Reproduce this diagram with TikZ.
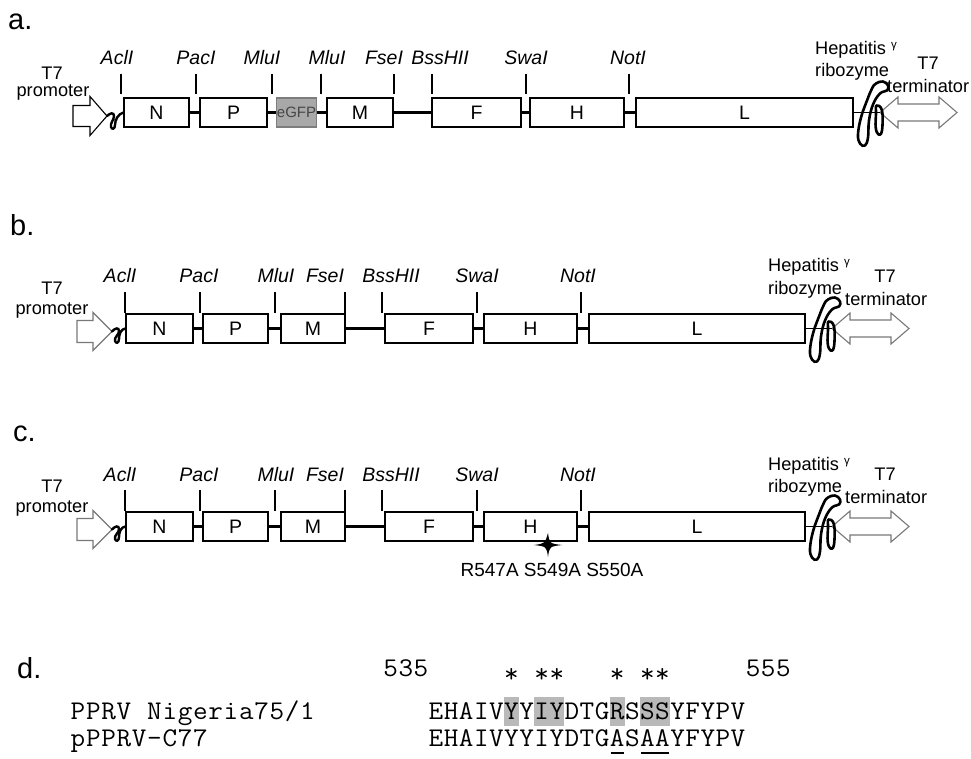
\documentclass[tikz,border=0pt]{standalone}
\usepackage{fontspec}
\setmainfont{Liberation Sans}
\usepackage{graphicx}
\usetikzlibrary{calc}
\definecolor{gfpfill}{RGB}{168,168,168}
\definecolor{gfpdraw}{RGB}{125,125,125}
\definecolor{gfptext}{RGB}{70,70,70}
\definecolor{hlgrey}{RGB}{185,185,185}
\definecolor{arrgrey}{RGB}{120,120,120}
\newcommand{\GeneF}{\fontsize{19.5}{21}\selectfont}
\newcommand{\EnzF}{\fontsize{19.5}{21}\selectfont\itshape}
\newcommand{\LblF}{\fontsize{18.2}{20}\selectfont}
\newcommand{\PanF}{\fontsize{29}{30}\selectfont}
\newcommand{\GfpF}{\fontsize{15}{16}\selectfont}
\newcommand{\SeqF}{\fontsize{27}{28}\selectfont\ttfamily\addfontfeature{FakeBold=0.6}}
\newcommand{\MutF}{\fontsize{19}{20}\selectfont}
\newcommand{\Sx}[1]{\scalebox{1.05}[1]{#1}}
\newcommand{\Gam}{\raisebox{6pt}{\fontsize{11.5}{11.5}\selectfont γ}}
\newcommand{\MonoRow}[5]{\foreach \c [count=\i from 0] in {#5} {\node[seqch] (#1-\i) at ({#2+#3*\i},#4) {\Sx{\c}};}}
\newcommand{\RiboShape}{%
  \draw[ribo] plot[smooth cycle, tension=0.7] coordinates {(23,-29) (30,-31) (35,-27) (34,-22) (27,-19) (20,-8) (16,8) (15,25) (12,33) (7,31) (5,22) (8,5) (14,-12) (19,-24)};
  \draw[ribo] plot[smooth cycle, tension=0.7] coordinates {(23.5,-7) (29,-2) (29,18) (25.5,22) (22.7,15) (23,1.3)};}
\newcommand{\TermShape}{%
  \draw[termarrow] (0,0) -- (18,-15.5) -- (18,-8.5) -- (59,-8.5) -- (59,-15.5) -- (77,0) -- (59,15.5) -- (59,8.5) -- (18,8.5) -- (18,15.5) -- cycle;}
\newcommand{\RowBC}{%
  \node[lbl] (Tp) at (52,294) {T7};
  \node[lbl] (Pp) at (52,314) {promoter};
  \draw[promarrow, draw=arrgrey] (77,320.5) -- (93,320.5) -- (93,312.5) -- (112,331.5) -- (93,350.5) -- (93,342.5) -- (77,342.5) -- cycle;
  \coordinate (tip) at (112,331.5);
  \node[gbox,minimum width=67pt] (N) at (159.5,328.5) {N};
  \node[gbox,minimum width=65pt] (P) at (235.5,328.5) {P};
  \node[gbox,minimum width=64pt] (M) at (313,328.5) {M};
  \node[gbox,minimum width=88pt] (F) at (429,328.5) {F};
  \node[gbox,minimum width=93pt] (H) at (530.5,328.5) {H};
  \node[gbox,minimum width=216pt] (L) at (697,328.5) {L};
  \draw[linker] (N.east) -- (P.west);
  \draw[linker] (P.east) -- (M.west);
  \draw[linker] (M.east) -- (F.west);
  \draw[linker] (F.east) -- (H.west);
  \draw[linker] (H.east) -- (L.west);
  \draw[curl] (tip) .. controls (115,328) and (119,327) .. (119,331) .. controls (119,335) and (114,337) .. (115,341) .. controls (116,344) and (119,343) .. (119,339) .. controls (119,334) and (121,329) .. (N.west);
  \foreach \x in {125,200,275,345,382,477,581} {\draw[tickln] (\x,292) -- (\x,313);}
  \node[enz] (eA) at (120,283) {AclI};
  \node[enz] (eP) at (199,283) {PacI};
  \node[enz] (eM) at (276,283) {MluI};
  \node[enz] (eF) at (325,283) {FseI};
  \node[enz] (eB) at (391,283) {BssHII};
  \node[enz] (eS) at (477,283) {SwaI};
  \node[enz] (eN) at (578,283) {NotI};
  \coordinate (tt) at (832,328.5);
  \begin{scope}[shift={(832,328.5)}]\TermShape\end{scope}
  \draw[thinlink] (L.east) -- (tt);
  \begin{scope}[shift={(805,328.5)}]\RiboShape\end{scope}
  \node[lbl,anchor=base west] (hep) at (768,272) {Hepatitis \Gam};
  \node[lbl,anchor=base west] (rib) at (768,294) {ribozyme};
  \node[lbl] (t7t) at (885,282) {T7};
  \node[lbl,anchor=base west] (term) at (845,305) {terminator};
}
\begin{document}
\begin{tikzpicture}[x=1pt,y=-1pt,
  gbox/.style={draw, line width=1.1pt, minimum height=29pt, inner sep=0pt, font=\GeneF, fill=white},
  linker/.style={line width=2.6pt},
  thinlink/.style={line width=1.4pt},
  tickln/.style={line width=1.2pt},
  enz/.style={font=\EnzF, anchor=base, inner sep=0pt},
  lbl/.style={font=\LblF, anchor=base, inner sep=0pt},
  panlbl/.style={font=\PanF, anchor=base west, inner sep=0pt},
  promarrow/.style={draw, fill=white, line width=1.1pt},
  termarrow/.style={draw=arrgrey, fill=white, line width=1.1pt},
  ribo/.style={line width=2.6pt, line join=round},
  curl/.style={line width=2.4pt, line cap=round},
  seqch/.style={font=\SeqF, anchor=base, inner sep=0pt},
  uline/.style={line width=1.8pt}
]
\useasboundingbox (0,0) rectangle (971,759);
% ---------- panel a ----------
\node[panlbl] (la) at (8,30) {a.};
\node[lbl] (aTp) at (52,80) {T7};
\node[lbl] (aPp) at (53,97) {promoter};
\draw[promarrow] (73,105.5) -- (90,105.5) -- (90,96.5) -- (107,116) -- (90,135.5) -- (90,126.5) -- (73,126.5) -- cycle;
\coordinate (atip) at (107,116);
\node[gbox,minimum width=65pt] (aN) at (156.5,112.5) {N};
\node[gbox,minimum width=67pt] (aP) at (233.5,112.5) {P};
\node[gbox,minimum width=37pt, fill=gfpfill, draw=gfpdraw, font=\GfpF, text=gfptext] (aG) at (296.5,112.5) {eGFP};
\node[gbox,minimum width=66pt] (aM) at (360,112.5) {M};
\node[gbox,minimum width=89pt] (aF) at (476.5,112.5) {F};
\node[gbox,minimum width=94pt] (aH) at (577,112.5) {H};
\node[gbox,minimum width=217pt] (aL) at (744.5,112.5) {L};
\draw[linker] (aN.east) -- (aP.west);
\draw[linker] (aP.east) -- (aG.west);
\draw[linker] (aG.east) -- (aM.west);
\draw[linker] (aM.east) -- (aF.west);
\draw[linker] (aF.east) -- (aH.west);
\draw[linker] (aH.east) -- (aL.west);
\draw[curl] (atip) .. controls (110,113) and (114,112) .. (114,116) .. controls (114,120) and (110,123) .. (111,127) .. controls (112,130) and (115,129) .. (115,125) .. controls (115,120) and (118,114) .. (aN.west);
\foreach \x in {121,196,272,321,394,432,526,629} {\draw[tickln] (\x,74) -- (\x,94);}
\node[enz] (aeA) at (117,65) {AclI};
\node[enz] (aeP) at (196,65) {PacI};
\node[enz] (aeM) at (262,65) {MluI};
\node[enz] (aeM2) at (327,65) {MluI};
\node[enz] (aeF) at (384,65) {FseI};
\node[enz] (aeB) at (440,65) {BssHII};
\node[enz] (aeS) at (526,65) {SwaI};
\node[enz] (aeN) at (628,65) {NotI};
\coordinate (att) at (880,112.5);
\begin{scope}[shift={(880,112.5)}]\TermShape\end{scope}
\draw[thinlink] (aL.east) -- (att);
\begin{scope}[shift={(853,112.5)}]\RiboShape\end{scope}
\node[lbl,anchor=base west] (ahep) at (815,55) {Hepatitis \Gam};
\node[lbl,anchor=base west] (arib) at (815,77) {ribozyme};
\node[lbl] (at7t) at (928,70) {T7};
\node[lbl,anchor=base west] (aterm) at (887,93) {terminator};
% ---------- panel b ----------
\node[panlbl] (lb) at (10,236) {b.};
\begin{scope}[name prefix=b-]\RowBC\end{scope}
% ---------- panel c ----------
\node[panlbl] (lc) at (13,441) {c.};
\begin{scope}[name prefix=c-, shift={(0,198)}]\RowBC\end{scope}
\fill (534,545) .. controls (545,543.5) .. (548,533) .. controls (549.5,543.5) .. (562,545) .. controls (549.5,546.5) .. (548,557) .. controls (546.5,546.5) .. (534,545) -- cycle;
\node[font=\MutF, anchor=base, inner sep=0pt] (mut) at (552,576) {R547A S549A S550A};
% ---------- panel d ----------
\node[panlbl] (ld) at (17,678) {d.};
\foreach \k in {5,7,8,12,14,15} {\fill[hlgrey] ({436+15.1*\k-7.55},697) rectangle ++(15.1,29);}
\MonoRow{num}{390.7}{15.1}{676}{5,3,5}
\MonoRow{numb}{753.1}{15.1}{676}{5,5,5}
\foreach \k in {5,7,8,12,14,15} {\node[seqch] (ast-\k) at ({436+15.1*\k},682) {\Sx{*}};}
\MonoRow{la}{78}{15.3}{719}{P,P,R,V}
\MonoRow{lb}{154.5}{15.3}{719}{N,i,g,e,r,i,a,7,5,/,1}
\MonoRow{lc}{78}{15.3}{746}{p,P,P,R,V,-,C,7,7}
\MonoRow{r1}{436}{15.1}{719}{E,H,A,I,V,Y,Y,I,Y,D,T,G,R,S,S,S,Y,F,Y,P,V}
\MonoRow{r2}{436}{15.1}{746}{E,H,A,I,V,Y,Y,I,Y,D,T,G,A,S,A,A,Y,F,Y,P,V}
\draw[uline] ($(r2-12.base)+(-6.5,7)$) -- ($(r2-12.base)+(6.5,7)$);
\draw[uline] ($(r2-14.base)+(-6.5,7)$) -- ($(r2-15.base)+(6.5,7)$);
\end{tikzpicture}
\end{document}
